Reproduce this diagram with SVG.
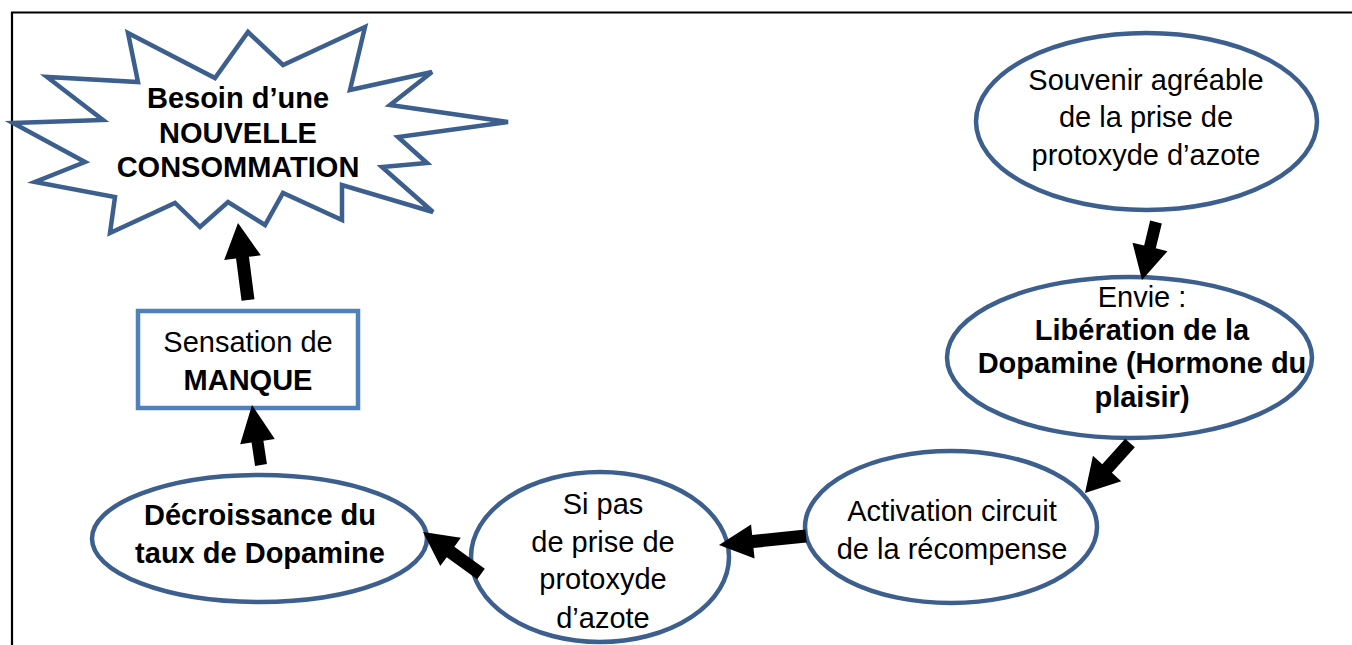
<svg xmlns="http://www.w3.org/2000/svg" width="1352" height="645" viewBox="0 0 1352 645">
<style>
text{font-family:"Liberation Sans",Arial,sans-serif;font-size:29px;fill:#000;text-anchor:middle}
.b{font-weight:bold}
.node{fill:#fff;stroke:#3C5F8E;stroke-width:4.5}
.box{fill:#fff;stroke:#4F81BD;stroke-width:4.5}
.arrow{fill:#000;stroke:none}
</style>
<rect width="1352" height="645" fill="#fff"/>
<path d="M12,650 V12.5 H1360" fill="none" stroke="#000" stroke-width="2.2"/>
<g id="n-besoin">
<polygon class="node" stroke-linejoin="miter" points="128,33 215,78 248,32 283,65 365,27 350,90 432,72 390,105 508,122 398,137 427,163 382,167 433,212 342,185 342,220 283,193 265,225 228,202 200,227 175,203 110,233 115,197 35,182 85,162 13,123 103,120 47,77 138,82"/>
<text class="b" x="238" y="108">Besoin d’une</text>
<text class="b" x="238" y="142.5">NOUVELLE</text>
<text class="b" x="238" y="177">CONSOMMATION</text>
</g>
<g id="n-souvenir">
<ellipse class="node" cx="1146.5" cy="121.5" rx="170.5" ry="88.5"/>
<text x="1146" y="90">Souvenir agréable</text>
<text x="1146" y="127">de la prise de</text>
<text x="1146" y="165">protoxyde d’azote</text>
</g>
<g id="n-envie">
<ellipse class="node" cx="1129.5" cy="357.5" rx="182.5" ry="80.5"/>
<text x="1142" y="307">Envie :</text>
<text class="b" x="1142" y="340">Libération de la</text>
<text class="b" x="1142" y="373">Dopamine (Hormone du</text>
<text class="b" x="1142" y="407">plaisir)</text>
</g>
<g id="n-activation">
<ellipse class="node" cx="951" cy="527" rx="146" ry="76"/>
<text x="952" y="521">Activation circuit</text>
<text x="952" y="559">de la récompense</text>
</g>
<g id="n-sipas">
<ellipse class="node" cx="600" cy="557" rx="129" ry="85"/>
<text x="603" y="514">Si pas</text>
<text x="603" y="552">de prise de</text>
<text x="603" y="589">protoxyde</text>
<text x="603" y="628">d’azote</text>
</g>
<g id="n-decroissance">
<ellipse class="node" cx="259.5" cy="538.5" rx="167.5" ry="63.5"/>
<text class="b" x="260" y="525">Décroissance du</text>
<text class="b" x="260" y="563">taux de Dopamine</text>
</g>
<g id="n-manque">
<rect class="box" x="138" y="311" width="220" height="97"/>
<text x="248" y="352">Sensation de</text>
<text class="b" x="248" y="390">MANQUE</text>
</g>
<g id="connectors">
<polygon class="arrow" points="1161.83,223.41 1155.81,248.36 1167.48,251.17 1142,280 1132.48,242.73 1144.15,245.54 1150.17,220.59"/>
<polygon class="arrow" points="1134.83,447.35 1111.91,472.83 1121.2,481.19 1085,493 1092.96,455.77 1102.25,464.13 1125.17,438.65"/>
<polygon class="arrow" points="806.67,542.47 753.49,547.97 754.57,558.41 719,545 751.07,524.59 752.15,535.03 805.33,529.53"/>
<polygon class="arrow" points="484.81,568.73 454.35,546.67 460.81,537.76 423,532 440.27,566.12 446.73,557.21 477.19,579.27"/>
<polygon class="arrow" points="266.93,464.11 263.42,440.7 274.8,438.99 252,405 240.18,444.19 251.56,442.48 255.07,465.89"/>
<polygon class="arrow" points="254.45,299.16 248.96,256.87 260.85,255.33 238,223 224.17,260.09 236.06,258.55 241.55,300.84"/>
</g>
</svg>
